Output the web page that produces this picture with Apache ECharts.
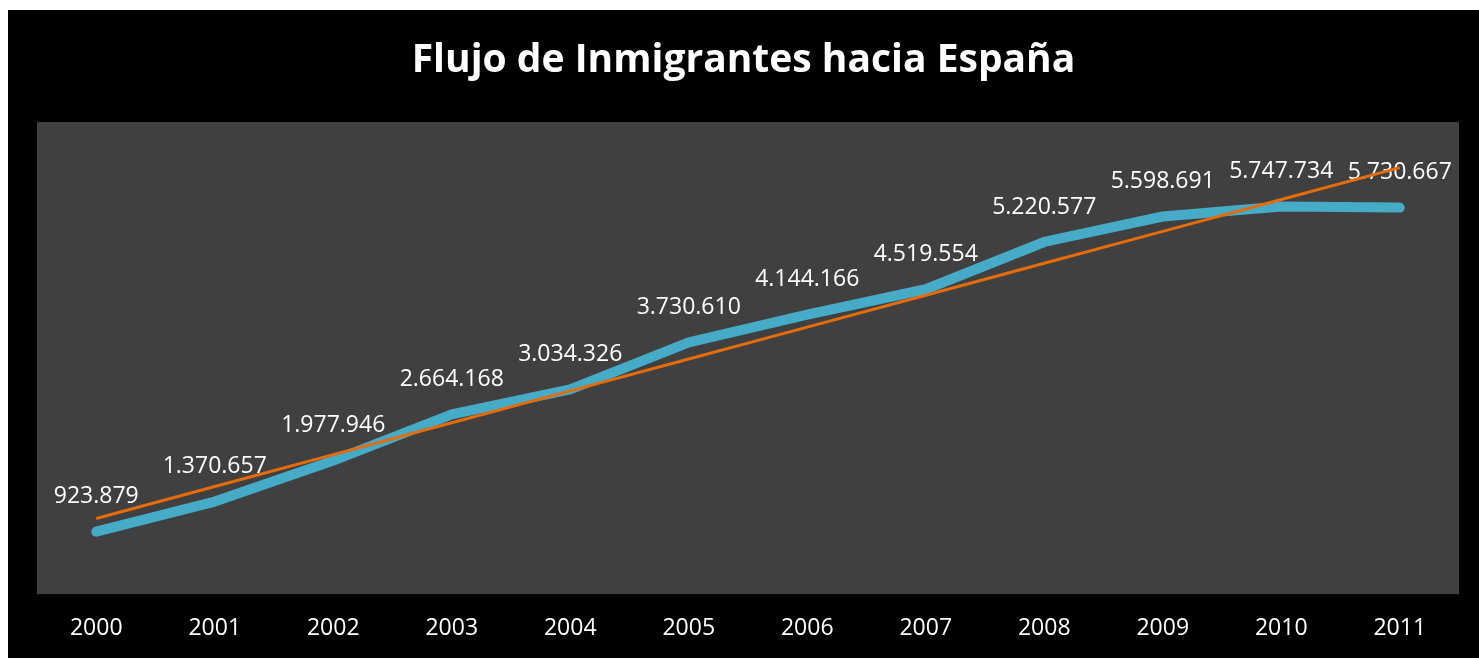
<!DOCTYPE html>
<html>
<head>
<meta charset="utf-8">
<script src="https://cdn.jsdelivr.net/npm/echarts@6/dist/echarts.min.js"></script>
<style>
  html, body { margin: 0; padding: 0; background: #ffffff; }
  #chart { position: absolute; left: 8px; top: 10px; width: 1471px; height: 648px; background: #000000; }
</style>
</head>
<body>
<div id="chart"></div>
<script>
// Foreign population in Spain, by year
const years = ['2000', '2001', '2002', '2003', '2004', '2005', '2006', '2007', '2008', '2009', '2010', '2011'];
const immigrants = [923879, 1370657, 1977946, 2664168, 3034326, 3730610, 4144166, 4519554, 5220577, 5598691, 5747734, 5730667];

// Least-squares linear trend over the yearly values
function linearTrend(values) {
  const n = values.length;
  const mx = (n - 1) / 2;
  const my = values.reduce((a, b) => a + b, 0) / n;
  let sxy = 0, sxx = 0;
  values.forEach((v, i) => { sxy += (i - mx) * (v - my); sxx += (i - mx) * (i - mx); });
  const slope = sxy / sxx;
  return values.map((_, i) => my + slope * (i - mx));
}
const trend = linearTrend(immigrants);

// Spanish thousands separator: 1.370.657
const fmt = v => String(Math.round(v)).replace(/\B(?=(\d{3})+(?!\d))/g, '.');

const chart = echarts.init(document.getElementById('chart'), null, { renderer: 'canvas' });
chart.setOption({
  backgroundColor: '#000000',
  animation: false,
  title: {
    text: 'Flujo de Inmigrantes hacia España',
    left: 'center',
    top: 22,
    textStyle: { color: '#ffffff', fontFamily: 'Open Sans', fontWeight: 'bold', fontSize: 39, lineHeight: 48 }
  },
  grid: {
    left: 29, right: 20, top: 112, bottom: 64,
    show: true, backgroundColor: '#404040', borderWidth: 0
  },
  xAxis: {
    type: 'category',
    data: years,
    boundaryGap: true,
    axisLine: { show: false },
    axisTick: { show: false },
    axisLabel: { color: '#ffffff', fontFamily: 'Open Sans', fontSize: 23, lineHeight: 24, margin: 22 }
  },
  yAxis: {
    type: 'value',
    min: 0,
    max: 7000000,
    show: false,
    splitLine: { show: false }
  },
  series: [
    {
      name: 'Inmigrantes',
      type: 'line',
      data: immigrants,
      z: 2,
      symbol: 'circle',
      symbolSize: 2,
      showSymbol: true,
      itemStyle: { color: 'rgba(70,171,198,0)', borderWidth: 0 },
      lineStyle: { color: '#46ABC6', width: 10, cap: 'round', join: 'round' },
      label: {
        show: true,
        position: 'top',
        distance: 20,
        color: '#ffffff',
        opacity: 1,
        fontFamily: 'Open Sans',
        fontSize: 23,
        lineHeight: 28,
        formatter: p => fmt(p.value)
      }
    },
    {
      name: 'Lineal (Inmigrantes)',
      type: 'line',
      data: trend,
      z: 3,
      symbol: 'none',
      lineStyle: { color: '#E46C0A', width: 3 },
      silent: true
    }
  ]
});
</script>
</body>
</html>
